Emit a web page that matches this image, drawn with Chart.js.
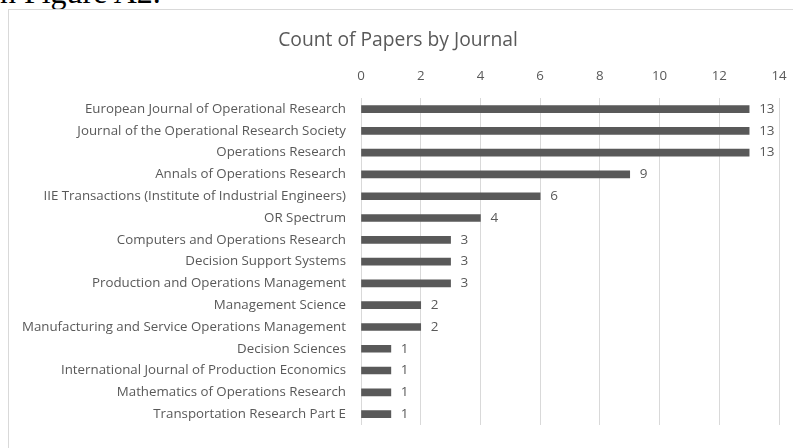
<!DOCTYPE html>
<html>
<head>
<meta charset="utf-8">
<script src="https://cdn.jsdelivr.net/npm/chart.js@4/dist/chart.umd.min.js"></script>
<style>
  html, body { margin: 0; padding: 0; background: #fff; overflow: hidden; }
  #wrap { position: relative; width: 793px; height: 448px; }
  #caption { position: absolute; left: -9px; top: -24px; font: 32px "Liberation Serif", serif; color: #000; line-height: 1; white-space: nowrap; }
  #frame { position: absolute; left: 8px; top: 9px; width: 820px; height: 460px; border: 1px solid #d9d9d9; }
  #bars { position: absolute; left: 0; top: 0; }
</style>
</head>
<body>
<div id="wrap">
  <div id="caption">in Figure A2.</div>
  <div id="frame"></div>
  <canvas id="bars" width="793" height="448"></canvas>
</div>
<script>
const journals = [
  'European Journal of Operational Research',
  'Journal of the Operational Research Society',
  'Operations Research',
  'Annals of Operations Research',
  'IIE Transactions (Institute of Industrial Engineers)',
  'OR Spectrum',
  'Computers and Operations Research',
  'Decision Support Systems',
  'Production and Operations Management',
  'Management Science',
  'Manufacturing and Service Operations Management',
  'Decision Sciences',
  'International Journal of Production Economics',
  'Mathematics of Operations Research',
  'Transportation Research Part E',
]
const paperCounts = [13, 13, 13, 9, 6, 4, 3, 3, 3, 2, 2, 1, 1, 1, 1]
const xTicks = [0, 2, 4, 6, 8, 10, 12, 14]

const fontFamily = '"Open Sans", sans-serif'
const grey = '#595959'

// draws the value next to each bar end
const valueLabels = {
  id: 'valueLabels',
  afterDatasetsDraw(chart) {
    const ctx = chart.ctx
    ctx.save()
    ctx.font = '13.5px ' + fontFamily
    ctx.fillStyle = grey
    ctx.textBaseline = 'middle'
    chart.getDatasetMeta(0).data.forEach((bar, i) => {
      ctx.fillText(String(paperCounts[i]), bar.x + 10, bar.y)
    })
    ctx.restore()
  },
}

const barConfig = {
  type: 'bar',
  data: {
    labels: journals,
    datasets: [
      {
        label: 'Count of Papers',
        backgroundColor: grey,
        barThickness: 7,
        data: paperCounts,
      },
    ],
  },
  options: {
    indexAxis: 'y',
    responsive: false,
    animation: false,
    layout: { padding: { left: 17, right: 14, top: 0, bottom: 14 } },
    plugins: {
      legend: { display: false },
      tooltip: { enabled: false },
      title: {
        display: true,
        text: 'Count of Papers by Journal',
        color: grey,
        font: { family: fontFamily, size: 19.3, weight: 'normal' },
        padding: { top: 29, bottom: 0 },
      },
    },
    scales: {
      x: {
        position: 'top',
        min: 0,
        max: 14,
        afterBuildTicks: (scale) => { scale.ticks = xTicks.map(v => ({ value: v })) },
        afterFit: (scale) => {
          scale.height = 46
          scale.paddingLeft = 0
          scale.paddingRight = 0
        },
        grid: { color: '#d9d9d9', drawTicks: false },
        border: { display: false },
        ticks: { color: grey, padding: 14, font: { family: fontFamily, size: 13.3 } },
      },
      y: {
        afterFit: (scale) => { scale.width = 344 },
        grid: { display: false, drawTicks: false },
        border: { display: false },
        ticks: { color: grey, padding: 15, font: { family: fontFamily, size: 13.3 } },
      },
    },
  },
  plugins: [valueLabels],
}

const barsCtx = document.getElementById('bars')
window.myBar = new Chart(barsCtx, barConfig)
</script>
</body>
</html>
